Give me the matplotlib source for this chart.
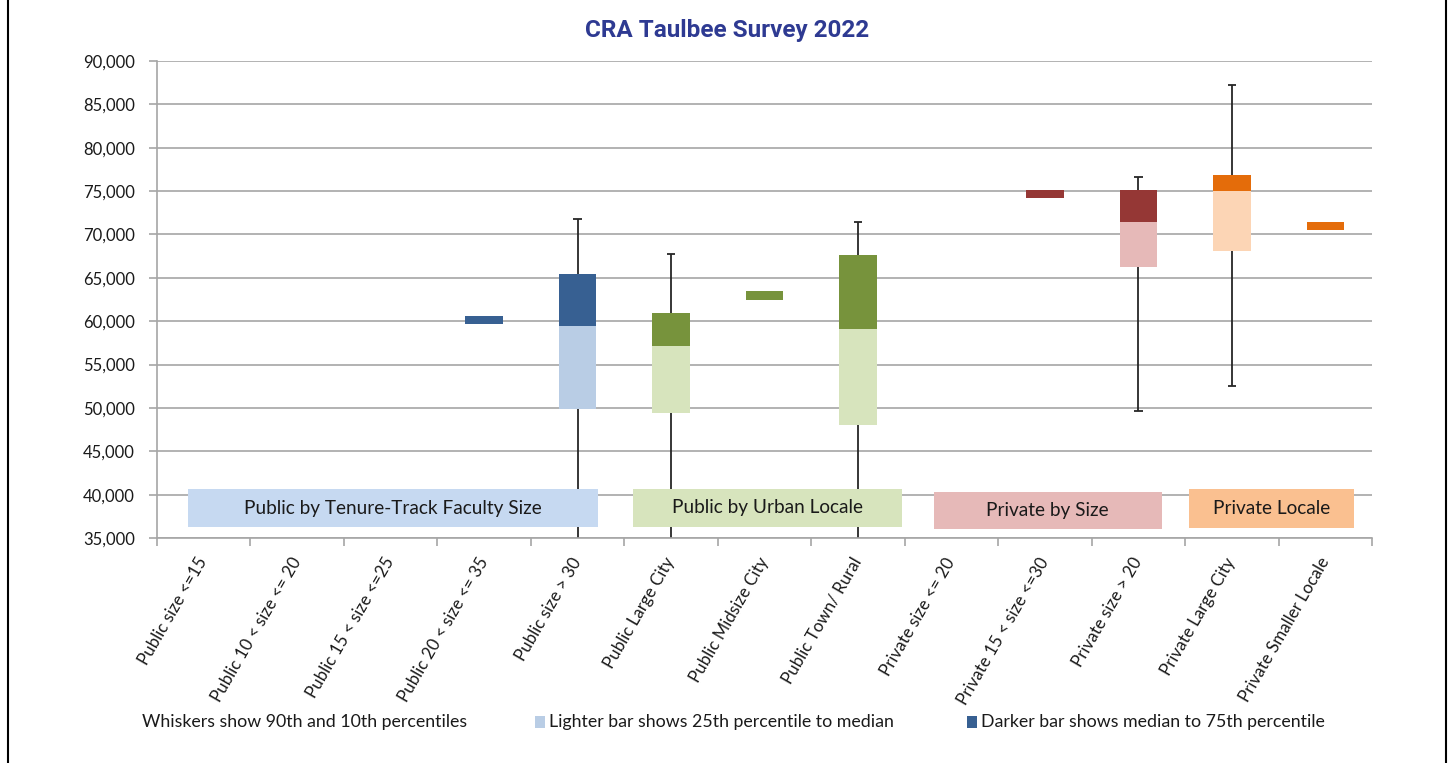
import numpy as np
import matplotlib
matplotlib.use("Agg")
import matplotlib.pyplot as plt
from matplotlib.patches import Rectangle
from matplotlib.lines import Line2D
from matplotlib.ticker import FuncFormatter, MultipleLocator, FixedLocator

# ---------------- data ----------------
categories = [
    "Public size <=15", "Public 10 < size <= 20", "Public 15 < size <=25",
    "Public 20 < size <= 35", "Public size > 30", "Public Large City",
    "Public Midsize City", "Public Town/ Rural", "Private size <= 20",
    "Private 15 < size <=30", "Private size > 20", "Private Large City",
    "Private Smaller Locale",
]
nan = np.nan
p10 = [nan, nan, nan, nan, 30000, 30000, nan, 30000, nan, nan, 49650, 52500, nan]
p25 = [nan, nan, nan, 59700, 49850, 49400, 62500, 48000, nan, 74200, 66300, 68100, 70500]
p50 = [nan, nan, nan, 59700, 59500, 57100, 62500, 59050, nan, 74200, 71400, 75000, 70500]
p75 = [nan, nan, nan, 60650, 65450, 61000, 63450, 67600, nan, 75100, 75100, 76800, 71450]
p90 = [nan, nan, nan, nan, 71750, 67750, nan, 71450, nan, nan, 76650, 87200, nan]
group_of = ["pub_size"] * 5 + ["pub_loc"] * 3 + ["priv_size"] * 3 + ["priv_loc"] * 2

group_names = ["Public by Tenure-Track Faculty Size", "Public by Urban Locale",
               "Private by Size", "Private Locale"]
group_keys = ["pub_size", "pub_loc", "priv_size", "priv_loc"]
group_span = [(-0.17, 4.22), (4.59, 7.47), (7.81, 10.25), (10.54, 12.31)]
group_yspan = [(36300, 40600), (36270, 40650), (36040, 40300), (36150, 40600)]

legend_texts = ["Whiskers show 90th and 10th percentiles",
                "Lighter bar shows 25th percentile to median",
                "Darker bar shows median to 75th percentile"]
title = "CRA Taulbee Survey 2022"

# ---------------- style ----------------
dark_col = {"pub_size": "#376092", "pub_loc": "#77933C", "priv_size": "#953735", "priv_loc": "#E46C0A"}
light_col = {"pub_size": "#B9CDE5", "pub_loc": "#D7E4BD", "priv_size": "#E6B9B8", "priv_loc": "#FCD5B5"}
label_col = {"pub_size": "#C6D9F1", "pub_loc": "#D7E4BD", "priv_size": "#E6B9B8", "priv_loc": "#FAC090"}
grid_col = "#A6A6A6"
FONT = ["Lato", "DejaVu Sans"]
plt.rcParams["font.family"] = FONT

W, H = 1450, 763
fig = plt.figure(figsize=(W / 100, H / 100), dpi=100)
ax = fig.add_axes([157 / W, 1 - 538 / H, (1372 - 157) / W, (538 - 61) / H])

x = np.arange(len(categories))
p10a, p25a, p50a, p75a, p90a = map(np.array, (p10, p25, p50, p75, p90))
darks = [dark_col[g] for g in group_of]
lights = [light_col[g] for g in group_of]

bw = 0.40
# whiskers
for xi, lo, hi in zip(x, p10a, p90a):
    if np.isnan(lo) or np.isnan(hi):
        continue
    ax.vlines(xi, lo, hi, color="#262626", lw=1.3, zorder=2)
    ax.hlines([lo, hi], xi - 0.045, xi + 0.045, color="#262626", lw=1.3, zorder=2)

ax.bar(x, p50a - p25a, bottom=p25a, width=bw, color=lights, zorder=3, linewidth=0)
ax.bar(x, p75a - p50a, bottom=p50a, width=bw, color=darks, zorder=3, linewidth=0)

# group label boxes
for name, key, (x0, x1), (y0, y1) in zip(group_names, group_keys, group_span, group_yspan):
    ax.add_patch(Rectangle((x0, y0), x1 - x0, y1 - y0, facecolor=label_col[key],
                           edgecolor="none", zorder=4))
    ax.text((x0 + x1) / 2, (y0 + y1) / 2, name, ha="center", va="center",
            fontsize=13.7, color="#1a1a1a", zorder=5)

ax.set_xlim(-0.5, len(categories) - 0.5)
ax.set_ylim(35000, 90000)
ax.yaxis.set_major_locator(MultipleLocator(5000))
ax.yaxis.set_major_formatter(FuncFormatter(lambda v, p: f"{int(v):,}"))
ax.grid(axis="y", color=grid_col, lw=1.2, zorder=0)
ax.set_axisbelow(True)

for s in ("top", "right"):
    ax.spines[s].set_visible(False)
for s in ("left", "bottom"):
    ax.spines[s].set_color(grid_col)
    ax.spines[s].set_linewidth(1.2)

ax.tick_params(axis="y", length=6, color=grid_col, width=1.2, labelsize=12, pad=10,
               labelcolor="#1a1a1a")
ax.set_xticks(x)
ax.set_xticklabels(categories, rotation=60, ha="right", va="center",
                   rotation_mode="anchor", fontsize=12.2, color="#1a1a1a")
ax.xaxis.set_minor_locator(FixedLocator(np.arange(-0.5, len(categories), 1.0)))
ax.tick_params(axis="x", which="major", length=0, pad=15)
ax.tick_params(axis="x", which="minor", length=6, color=grid_col, width=1.2)

# title
fig.text(727 / W, 1 - 31 / H, title, ha="center", va="center", fontsize=17.5,
         fontweight="bold", color="#2E3A92", family=["Roboto", "DejaVu Sans"])

# bottom legend
ly = 1 - 722 / H
fs_leg = 12.8
fig.text(142 / W, ly, legend_texts[0], ha="left", va="center", fontsize=fs_leg, color="#1a1a1a")
fig.patches.append(Rectangle((535 / W, 1 - 728 / H), 10 / W, 12 / H,
                             transform=fig.transFigure, facecolor=light_col["pub_size"],
                             edgecolor="none"))
fig.text(549 / W, ly, legend_texts[1], ha="left", va="center", fontsize=fs_leg, color="#1a1a1a")
fig.patches.append(Rectangle((967 / W, 1 - 728 / H), 10 / W, 12 / H,
                             transform=fig.transFigure, facecolor=dark_col["pub_size"],
                             edgecolor="none"))
fig.text(981 / W, ly, legend_texts[2], ha="left", va="center", fontsize=fs_leg, color="#1a1a1a")

# outer frame side lines
fig.add_artist(Line2D([7.5 / W, 7.5 / W], [0, 1], transform=fig.transFigure, color="black", lw=1.5))
fig.add_artist(Line2D([1445.5 / W, 1445.5 / W], [0, 1], transform=fig.transFigure, color="black", lw=1.5))

fig.savefig("out.png", dpi=100)
